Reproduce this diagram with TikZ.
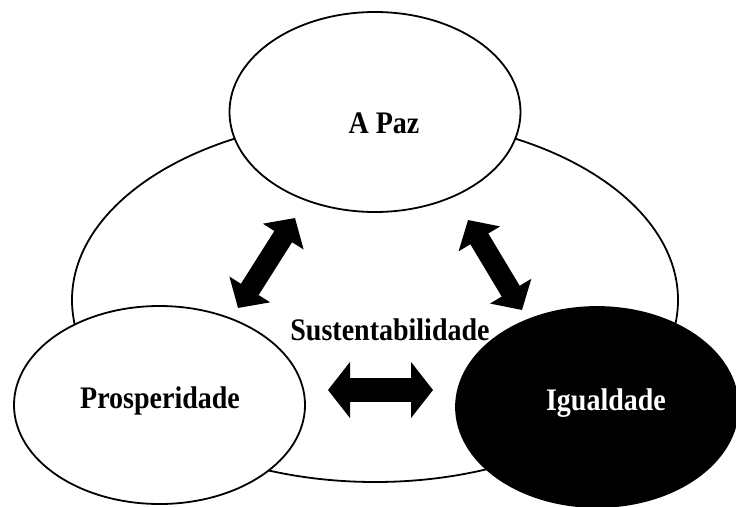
\documentclass[tikz,border=0pt]{standalone}
\usepackage{fontspec}
\setmainfont{Liberation Serif}
\usetikzlibrary{shapes.geometric,arrows.meta}
\newcommand{\tallbf}[1]{\scalebox{1}[1.12]{\bfseries\fontsize{28}{30}\selectfont #1}}
\tikzset{
  ring/.style={ellipse, draw=black, line width=1.8pt, fill=white, inner sep=0pt},
  txt/.style={anchor=base, inner sep=0pt},
  diagarrow/.style={line width=21pt, draw=black,
    {Triangle[width=47pt,length=22pt]}-{Triangle[width=47pt,length=22pt]}},
  horarrow/.style={line width=24pt, draw=black,
    {Triangle[width=55pt,length=22pt]}-{Triangle[width=55pt,length=22pt]}}
}
\begin{document}
\begin{tikzpicture}[x=1pt,y=-1pt]
\useasboundingbox[fill=white] (0,0) rectangle (736,506);
\node[ring, minimum width=606pt, minimum height=364pt] (sust) at (375,300) {};
\node[ring, minimum width=291pt, minimum height=200pt] (paz) at (375,112) {};
\node[ring, minimum width=291pt, minimum height=198pt] (prosp) at (159.5,405) {};
\node[ring, fill=black, minimum width=282pt, minimum height=200pt] (igual) at (597,407) {};
\node[txt] (tpaz) at (384,133) {\tallbf{A Paz}};
\node[txt] (tsust) at (390,340) {\tallbf{Sustentabilidade}};
\node[txt] (tprosp) at (160,408) {\tallbf{Prosperidade}};
\node[txt, text=white] (tigual) at (606,410) {\tallbf{Igualdade}};
\coordinate (a1) at (295,218);
\coordinate (a2) at (238,308);
\coordinate (b1) at (468,220);
\coordinate (b2) at (522,310);
\coordinate (c1) at (328,390);
\coordinate (c2) at (433,390);
\draw[diagarrow] (a1) -- (a2);
\draw[diagarrow] (b1) -- (b2);
\draw[horarrow] (c1) -- (c2);
\end{tikzpicture}
\end{document}
